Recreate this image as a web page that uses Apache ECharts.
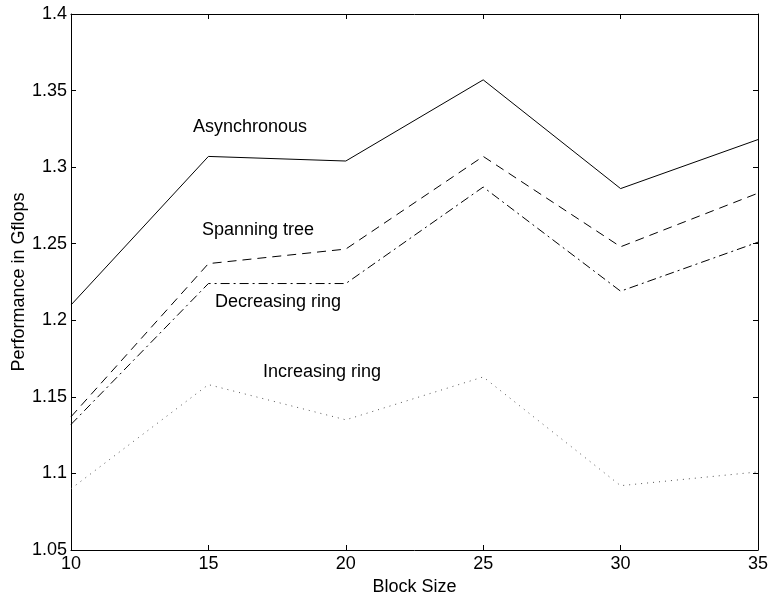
<!DOCTYPE html>
<html>
<head>
<meta charset="utf-8">
<script src="https://cdn.jsdelivr.net/npm/echarts@6/dist/echarts.min.js"></script>
<style>
  html, body { margin: 0; padding: 0; background: #fff; }
  #chart { width: 769px; height: 596px; }
</style>
</head>
<body>
<div id="chart"></div>
<script>
  // block sizes on the x axis
  const blockSizes = [10, 15, 20, 25, 30, 35];
  // performance in Gflops per method
  const asynchronous = [1.210, 1.307, 1.304, 1.357, 1.286, 1.318];
  const spanningTree = [1.137, 1.237, 1.2465, 1.307, 1.248, 1.283];
  const decreasingRing = [1.132, 1.224, 1.224, 1.287, 1.219, 1.251];
  const increasingRing = [1.090, 1.158, 1.135, 1.163, 1.092, 1.101];

  const font = 'Liberation Sans, Arial, sans-serif';
  const pairs = (ys) => blockSizes.map((x, i) => [x, ys[i]]);
  const fmt = (v) => String(parseFloat(v.toFixed(2)));

  const axisBase = {
    type: 'value',
    axisLine: { show: true, onZero: false, lineStyle: { color: '#000', width: 1 } },
    axisTick: { show: true, inside: true, length: 5, lineStyle: { color: '#000' } },
    splitLine: { show: false }
  };

  const line = (name, ys, type, color) => ({
    name: name,
    type: 'line',
    data: pairs(ys),
    symbol: 'none',
    animation: false,
    lineStyle: { color: color, width: 1, type: type }
  });

  const chart = echarts.init(document.getElementById('chart'));
  chart.setOption({
    backgroundColor: '#fff',
    animation: false,
    grid: { left: 71, right: 11, top: 14, bottom: 46, containLabel: false, outerBoundsMode: 'none' },
    xAxis: [
      Object.assign({}, axisBase, {
        min: 10, max: 35, interval: 5, position: 'bottom',
        name: 'Block Size', nameLocation: 'middle', nameGap: 28, nameMoveOverlap: false,
        nameTextStyle: { color: '#000', fontSize: 18, fontFamily: font },
        axisLabel: { color: '#000', fontSize: 18, fontFamily: font, margin: 5 }
      }),
      Object.assign({}, axisBase, {
        min: 10, max: 35, interval: 5, position: 'top',
        axisLabel: { show: false }
      })
    ],
    yAxis: [
      Object.assign({}, axisBase, {
        min: 1.05, max: 1.4, interval: 0.05, position: 'left',
        name: 'Performance in Gflops', nameLocation: 'middle', nameGap: 43, nameRotate: 90,
        nameMoveOverlap: false,
        nameTextStyle: { color: '#000', fontSize: 18, fontFamily: font },
        axisLabel: { color: '#000', fontSize: 18, fontFamily: font, margin: 4, formatter: fmt }
      }),
      Object.assign({}, axisBase, {
        min: 1.05, max: 1.4, interval: 0.05, position: 'right',
        axisLabel: { show: false }
      })
    ],
    series: [
      line('Asynchronous', asynchronous, 'solid', '#000'),
      line('Spanning tree', spanningTree, [9, 6], '#000'),
      line('Decreasing ring', decreasingRing, [9, 4, 2, 4], '#000'),
      line('Increasing ring', increasingRing, [1, 5], '#555')
    ],
    graphic: [
      { type: 'text', left: 193, top: 118, style: { text: 'Asynchronous', fill: '#000', font: '18px ' + font } },
      { type: 'text', left: 202, top: 221, style: { text: 'Spanning tree', fill: '#000', font: '18px ' + font } },
      { type: 'text', left: 215, top: 293, style: { text: 'Decreasing ring', fill: '#000', font: '18px ' + font } },
      { type: 'text', left: 263, top: 363, style: { text: 'Increasing ring', fill: '#000', font: '18px ' + font } }
    ]
  });
</script>
</body>
</html>
